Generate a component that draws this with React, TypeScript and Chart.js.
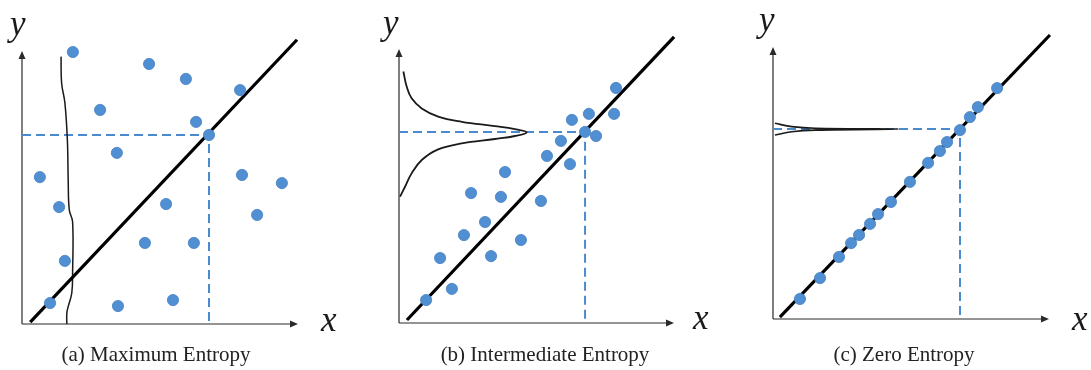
import React, { useEffect, useRef } from 'react';
import { Chart, registerables } from 'chart.js';

Chart.register(...registerables);

// ---- (a) Maximum Entropy: samples scattered all over the plane ----
const maxEntropyX = [1.85, 4.62, 5.96, 7.93, 2.84, 6.33, 6.8, 3.45, 0.65, 8.0, 9.45, 1.35, 5.24, 8.55, 4.47, 6.25, 1.56, 1.02, 3.49, 5.49];
const maxEntropyY = [10.0, 9.56, 9.01, 8.6, 7.87, 7.43, 6.95, 6.29, 5.4, 5.48, 5.18, 4.3, 4.41, 4.01, 2.98, 2.98, 2.32, 0.77, 0.66, 0.88];
const maxEntropyCurveX = [1.42, 1.44, 1.56, 1.65, 1.68, 1.72, 1.84, 1.84, 1.81, 1.68, 1.63, 1.63];
const maxEntropyCurveY = [9.83, 8.86, 8.13, 6.76, 5.29, 4.19, 3.76, 1.88, 1.14, 0.64, 0.4, 0.0];
const maxEntropyDiagX = [0.3, 10.0];
const maxEntropyDiagY = [0.07, 10.45];
const maxEntropyRef = [6.8, 6.95];

// ---- (b) Intermediate Entropy: samples spread around the diagonal ----
const midEntropyX = [7.92, 7.85, 6.93, 6.31, 6.79, 7.19, 5.91, 5.4, 6.24, 3.87, 2.63, 3.72, 5.18, 3.14, 2.37, 4.45, 1.5, 3.36, 1.93, 0.99];
const midEntropyY = [8.61, 7.66, 7.66, 7.44, 7.0, 6.85, 6.67, 6.12, 5.82, 5.53, 4.76, 4.62, 4.47, 3.7, 3.22, 3.04, 2.38, 2.45, 1.25, 0.84];
const midEntropyCurveX = [0.16, 0.28, 0.46, 0.83, 1.43, 2.29, 3.5, 4.23, 4.66, 4.23, 3.5, 2.29, 1.43, 0.83, 0.46, 0.22, 0.04];
const midEntropyCurveY = [9.21, 8.66, 8.23, 7.86, 7.56, 7.37, 7.21, 7.1, 6.98, 6.85, 6.74, 6.58, 6.36, 5.97, 5.48, 4.99, 4.63];
const midEntropyDiagX = [0.29, 10.04];
const midEntropyDiagY = [0.11, 10.48];
const midEntropyRef = [6.79, 7.0];

// ---- (c) Zero Entropy: samples lying on the diagonal ----
const zeroEntropyX = [8.15, 7.45, 7.16, 6.8, 6.33, 6.07, 5.64, 4.98, 4.29, 3.82, 3.53, 3.13, 2.84, 2.4, 1.71, 0.98];
const zeroEntropyY = [8.52, 7.82, 7.45, 6.97, 6.53, 6.2, 5.76, 5.06, 4.32, 3.87, 3.51, 3.1, 2.8, 2.29, 1.51, 0.74];
const zeroEntropyCurveX = [0.07, 0.68, 1.53, 4.56, 1.53, 0.68, 0.07];
const zeroEntropyCurveY = [7.22, 7.1, 7.04, 7.01, 6.97, 6.91, 6.79];
const zeroEntropyDiagX = [0.25, 10.07];
const zeroEntropyDiagY = [0.07, 10.48];
const zeroEntropyRef = [6.8, 7.01];

const captions = ['(a) Maximum Entropy', '(b) Intermediate Entropy', '(c) Zero Entropy'];
const axisNames = ['x', 'y'];

const DOT = '#4f8fd2';
const DOT_EDGE = '#4680c2';
const DASH = '#4a8bd0';
const INK = '#1a1a1a';
const SERIF = "'Liberation Serif', 'Times New Roman', 'DejaVu Serif', serif";

const toPoints = (xs: number[], ys: number[]) => xs.map((x, i) => ({ x, y: ys[i] }));

// Draws the arrowed axes, the italic axis names and the panel caption.
const decor = {
  id: 'decor',
  beforeDatasetsDraw(chart: any) {
    const { ctx, chartArea: a } = chart;
    ctx.save();
    ctx.strokeStyle = '#2a2a2a';
    ctx.lineWidth = 1.2;
    ctx.beginPath();
    ctx.moveTo(a.left, a.bottom);
    ctx.lineTo(a.right - 4, a.bottom);
    ctx.moveTo(a.left, a.bottom);
    ctx.lineTo(a.left, a.top + 4);
    ctx.stroke();
    ctx.fillStyle = '#2a2a2a';
    ctx.beginPath();
    ctx.moveTo(a.right + 1, a.bottom);
    ctx.lineTo(a.right - 7, a.bottom - 3.5);
    ctx.lineTo(a.right - 7, a.bottom + 3.5);
    ctx.closePath();
    ctx.fill();
    ctx.beginPath();
    ctx.moveTo(a.left, a.top - 1);
    ctx.lineTo(a.left - 3.5, a.top + 7);
    ctx.lineTo(a.left + 3.5, a.top + 7);
    ctx.closePath();
    ctx.fill();
    ctx.restore();
  },
  afterDraw(chart: any, _args: any, opts: any) {
    const { ctx, chartArea: a } = chart;
    ctx.save();
    ctx.fillStyle = INK;
    ctx.textBaseline = 'alphabetic';
    ctx.textAlign = 'left';
    ctx.font = `italic 35px ${SERIF}`;
    ctx.fillText(axisNames[1], a.left + opts.yLabel[0], a.top + opts.yLabel[1]);
    ctx.fillText(axisNames[0], a.right + opts.xLabel[0], a.bottom + opts.xLabel[1]);
    ctx.font = `21px ${SERIF}`;
    ctx.fillStyle = '#222';
    ctx.textAlign = 'center';
    ctx.fillText(opts.caption, opts.captionX, opts.captionY);
    ctx.restore();
  },
};

type PanelProps = {
  left: number;
  width: number;
  padding: { left: number; right: number; top: number; bottom: number };
  dotsX: number[];
  dotsY: number[];
  curveX: number[];
  curveY: number[];
  diagX: number[];
  diagY: number[];
  refPoint: number[];
  curveWidth: number;
  decorOpts: any;
};

function Panel(p: PanelProps) {
  const ref = useRef<HTMLCanvasElement | null>(null);
  useEffect(() => {
    if (!ref.current) return;
    const [rx, ry] = p.refPoint;
    const chart = new Chart(ref.current, {
      type: 'scatter',
      data: {
        datasets: [
          {
            data: toPoints(p.dotsX, p.dotsY),
            showLine: false,
            pointRadius: 5.6,
            pointBackgroundColor: DOT,
            pointBorderColor: DOT_EDGE,
            pointBorderWidth: 0.8,
            order: 0,
            clip: false,
          },
          {
            data: toPoints(p.diagX, p.diagY),
            showLine: true,
            borderColor: '#000',
            borderWidth: 3.2,
            pointRadius: 0,
            order: 1,
            clip: false,
          },
          {
            data: toPoints(p.curveX, p.curveY),
            showLine: true,
            borderColor: INK,
            borderWidth: p.curveWidth,
            pointRadius: 0,
            tension: 0.4,
            order: 2,
            clip: false,
          },
          {
            data: [
              { x: 0, y: ry },
              { x: rx, y: ry },
              { x: rx, y: 0 },
            ],
            showLine: true,
            borderColor: DASH,
            borderWidth: 2,
            borderDash: [9, 5],
            pointRadius: 0,
            order: 3,
            clip: false,
          },
        ],
      },
      options: {
        animation: false,
        responsive: false,
        events: [],
        layout: { padding: p.padding },
        scales: {
          x: { type: 'linear', min: 0, max: 10, display: false },
          y: { type: 'linear', min: 0, max: 10, display: false },
        },
        plugins: {
          legend: { display: false },
          tooltip: { enabled: false },
          decor: p.decorOpts,
        } as any,
      },
      plugins: [decor],
    } as any);
    return () => chart.destroy();
  }, []);
  return (
    <canvas
      ref={ref}
      width={p.width}
      height={370}
      style={{ position: 'absolute', left: p.left, top: 0, width: p.width, height: 370, display: 'block' }}
    />
  );
}

export default function App() {
  return (
    <div style={{ position: 'fixed', left: 0, top: 0, width: 1091, height: 370, background: '#fff', overflow: 'hidden' }}>
      <Panel
        left={0}
        width={362}
        padding={{ left: 22, right: 65, top: 52, bottom: 46 }}
        dotsX={maxEntropyX}
        dotsY={maxEntropyY}
        curveX={maxEntropyCurveX}
        curveY={maxEntropyCurveY}
        diagX={maxEntropyDiagX}
        diagY={maxEntropyDiagY}
        refPoint={maxEntropyRef}
        curveWidth={1.5}
        decorOpts={{ yLabel: [-12, -17], xLabel: [24, 7], caption: captions[0], captionX: 156, captionY: 361 }}
      />
      <Panel
        left={365}
        width={367}
        padding={{ left: 34, right: 59, top: 50, bottom: 47 }}
        dotsX={midEntropyX}
        dotsY={midEntropyY}
        curveX={midEntropyCurveX}
        curveY={midEntropyCurveY}
        diagX={midEntropyDiagX}
        diagY={midEntropyDiagY}
        refPoint={midEntropyRef}
        curveWidth={1.8}
        decorOpts={{ yLabel: [-16, -16], xLabel: [20, 6], caption: captions[1], captionX: 180, captionY: 361 }}
      />
      <Panel
        left={735}
        width={356}
        padding={{ left: 38, right: 43, top: 48, bottom: 51 }}
        dotsX={zeroEntropyX}
        dotsY={zeroEntropyY}
        curveX={zeroEntropyCurveX}
        curveY={zeroEntropyCurveY}
        diagX={zeroEntropyDiagX}
        diagY={zeroEntropyDiagY}
        refPoint={zeroEntropyRef}
        curveWidth={1.6}
        decorOpts={{ yLabel: [-14, -17], xLabel: [24, 11], caption: captions[2], captionX: 169, captionY: 361 }}
      />
    </div>
  );
}
